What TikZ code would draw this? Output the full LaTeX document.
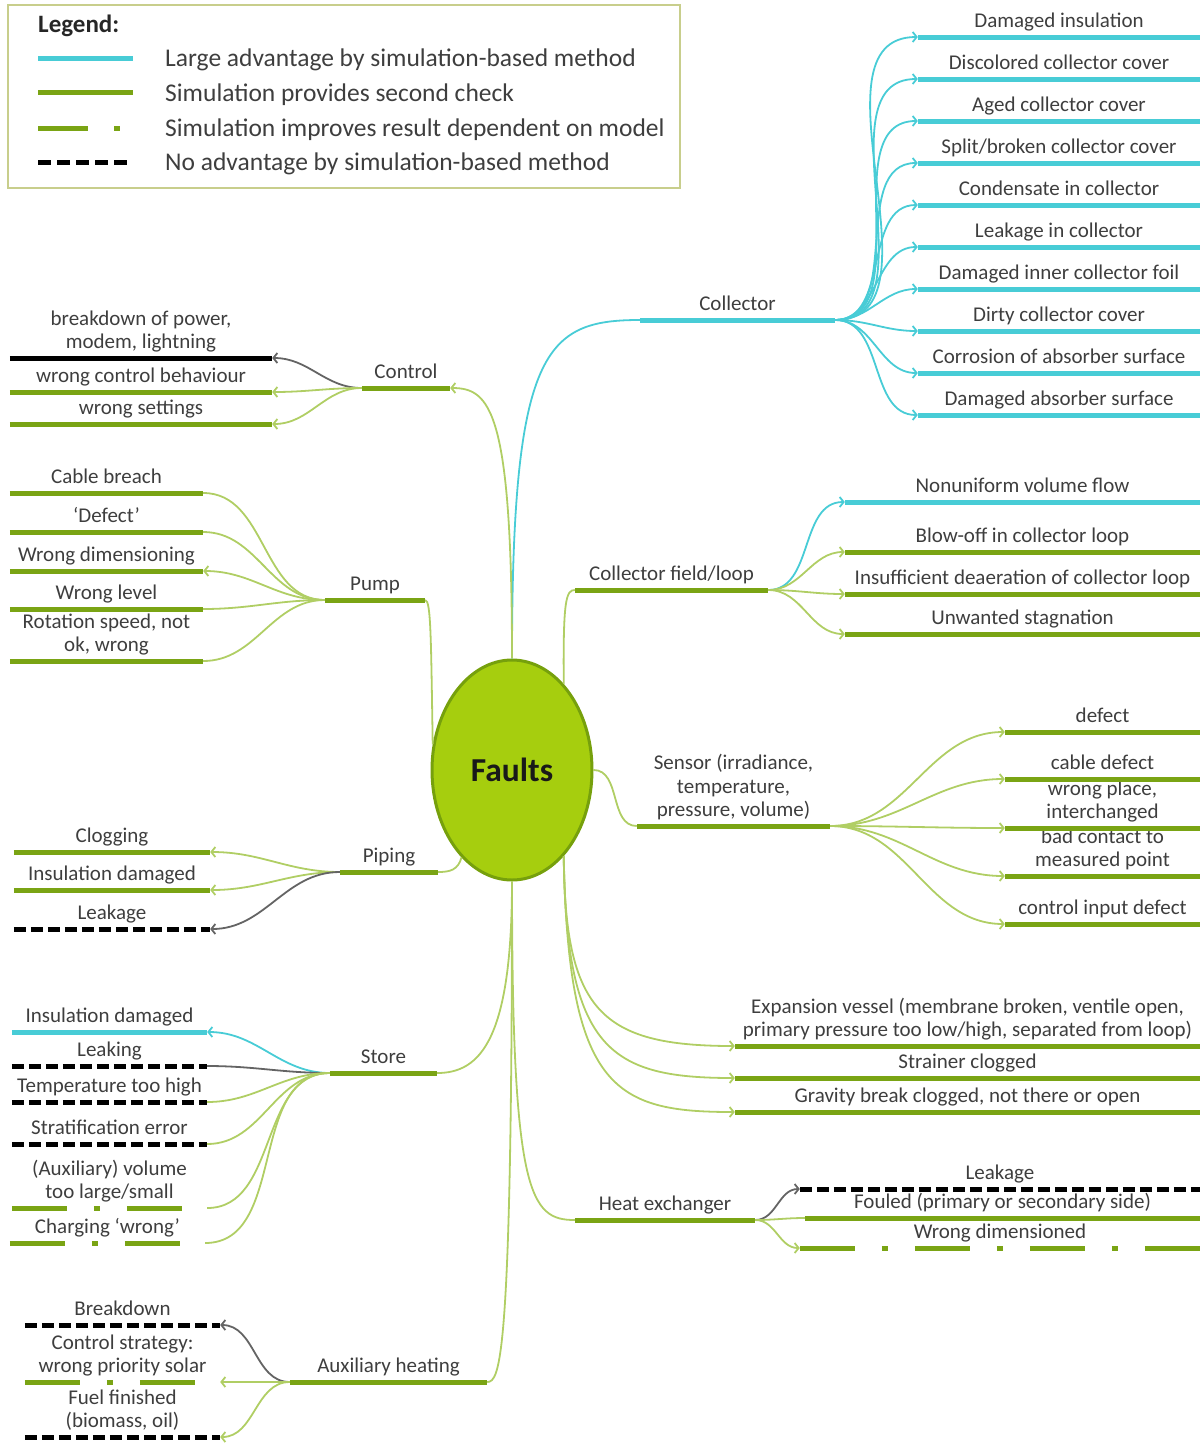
\documentclass[tikz,border=0pt]{standalone}
\usepackage{fontspec}
\setmainfont{Carlito}
\definecolor{simCyan}{RGB}{72,204,214}
\definecolor{checkGreen}{RGB}{122,164,20}
\definecolor{linkGreen}{RGB}{176,206,100}
\definecolor{linkGray}{RGB}{100,100,100}
\definecolor{faultFill}{RGB}{166,206,14}
\definecolor{faultEdge}{RGB}{118,160,12}
\definecolor{legendEdge}{RGB}{200,206,140}
\definecolor{txtGray}{RGB}{62,62,62}
\usepackage{tikz}
\usetikzlibrary{shapes.geometric,arrows.meta,positioning}

\tikzset{
  leaf/.style={anchor=south, minimum width=#1, inner xsep=0pt, inner ysep=4pt,
    text depth=5pt, align=center, text=txtGray, font=\fontsize{21}{23.5}\selectfont},
  legtext/.style={anchor=west, inner sep=0pt, text=txtGray,
    font=\fontsize{25.5}{30}\selectfont},
  cyanbar/.style={line width=5pt, simCyan},
  greenbar/.style={line width=5pt, checkGreen},
  blackbar/.style={line width=5pt, black},
  nobar/.style={line width=5pt, black, dash pattern=on 12pt off 5pt},
  modelbar/.style={line width=5pt, checkGreen, dash pattern=on 55pt off 27pt on 6pt off 27pt},
  cyanlink/.style={line width=1.8pt, simCyan},
  greenlink/.style={line width=1.8pt, linkGreen},
  graylink/.style={line width=1.8pt, linkGray},
}

\begin{document}
\begin{tikzpicture}[x=1pt,y=-1pt,>={Straight Barb[length=4pt,width=10pt]}]
      \useasboundingbox (0,0) rectangle (1204,1443);
      % Legend
      \draw[line width=2pt, legendEdge] (8,5) rectangle (680,188);
      \node[anchor=west, inner sep=0pt, text=black!85,
            font=\fontsize{25}{28}\selectfont\bfseries] (legtitle) at (38,26) {Legend:};
      \node[legtext] (leg1) at (165,60) {Large advantage by simulation-based method};
      \node[legtext] (leg2) at (165,95) {Simulation provides second check};
      \node[legtext] (leg3) at (165,130) {Simulation improves result dependent on model};
      \node[legtext] (leg4) at (165,164) {No advantage by simulation-based method};
      \draw[cyanbar] (38,58) -- (133,58);
      \draw[greenbar] (38,92) -- (133,92);
      \draw[modelbar, dash pattern=on 50pt off 26pt on 6pt off 26pt] (38,128) -- (124,128);
      \draw[nobar, dash pattern=on 13pt off 6pt] (38,162) -- (127,162);
      % Centre
      \node[ellipse, fill=faultFill, draw=faultEdge, line width=3pt,
            minimum width=160, minimum height=220, text=black!90,
            font=\fontsize{33.5}{36}\selectfont\bfseries]
        (faults) at (512,770) {Faults};
      % Collector
      \node[leaf=195] (col) at (737.5,320) {Collector};
      \node[leaf=282] (col1) at (1059,37) {Damaged insulation};
      \node[leaf=282] (col2) at (1059,79) {Discolored collector cover};
      \node[leaf=282] (col3) at (1059,121) {Aged collector cover};
      \node[leaf=282] (col4) at (1059,163) {Split/broken collector cover};
      \node[leaf=282] (col5) at (1059,205) {Condensate in collector};
      \node[leaf=282] (col6) at (1059,247) {Leakage in collector};
      \node[leaf=282] (col7) at (1059,289) {Damaged inner collector foil};
      \node[leaf=282] (col8) at (1059,331) {Dirty collector cover};
      \node[leaf=282] (col9) at (1059,373) {Corrosion of absorber surface};
      \node[leaf=282] (col10) at (1059,415) {Damaged absorber surface};
      % Collector field/loop
      \node[leaf=193] (cfl) at (671.5,590) {Collector field/loop};
      \node[leaf=355] (cfl1) at (1022.5,502) {Nonuniform volume flow};
      \node[leaf=355] (cfl2) at (1022.5,552) {Blow-off in collector loop};
      \node[leaf=355] (cfl3) at (1022.5,594) {Insufficient deaeration of collector loop};
      \node[leaf=355] (cfl4) at (1022.5,634) {Unwanted stagnation};
      % Sensor
      \node[leaf=193] (sen) at (733.5,826) {Sensor (irradiance,\\temperature,\\pressure, volume)};
      \node[leaf=195] (sen1) at (1102.5,732) {defect};
      \node[leaf=195] (sen2) at (1102.5,779) {cable defect};
      \node[leaf=195] (sen3) at (1102.5,828) {wrong place,\\interchanged};
      \node[leaf=195] (sen4) at (1102.5,876) {bad contact to\\measured point};
      \node[leaf=195] (sen5) at (1102.5,924) {control input defect};
      % Loop parts
      \node[leaf=465] (exp) at (967.5,1046)
        {Expansion vessel (membrane broken, ventile open,\\primary pressure too low/high, separated from loop)};
      \node[leaf=465] (str) at (967.5,1078) {Strainer clogged};
      \node[leaf=465] (grv) at (967.5,1112) {Gravity break clogged, not there or open};
      % Heat exchanger
      \node[leaf=180] (hex) at (665,1220) {Heat exchanger};
      \node[leaf=400] (hex1) at (1000,1189) {Leakage};
      \node[leaf=395] (hex2) at (1002.5,1218) {Fouled (primary or secondary side)};
      \node[leaf=400] (hex3) at (1000,1248) {Wrong dimensioned};
      % Control
      \node[leaf=88] (ctl) at (406,388) {Control};
      \node[leaf=262] (ctl1) at (141,358) {breakdown of power,\\modem, lightning};
      \node[leaf=262] (ctl2) at (141,392) {wrong control behaviour};
      \node[leaf=262] (ctl3) at (141,424) {wrong settings};
      % Pump
      \node[leaf=100] (pmp) at (375,600) {Pump};
      \node[leaf=193] (pmp1) at (106.5,493) {Cable breach};
      \node[leaf=193] (pmp2) at (106.5,532) {‘Defect’};
      \node[leaf=193] (pmp3) at (106.5,571) {Wrong dimensioning};
      \node[leaf=193] (pmp4) at (106.5,609) {Wrong level};
      \node[leaf=193] (pmp5) at (106.5,661) {Rotation speed, not\\ok, wrong};
      % Piping
      \node[leaf=98] (pip) at (389,872) {Piping};
      \node[leaf=196] (pip1) at (112,852) {Clogging};
      \node[leaf=196] (pip2) at (112,890) {Insulation damaged};
      \node[leaf=196] (pip3) at (112,929) {Leakage};
      % Store
      \node[leaf=107] (sto) at (383.5,1073) {Store};
      \node[leaf=195] (sto1) at (109.5,1032) {Insulation damaged};
      \node[leaf=195] (sto2) at (109.5,1066) {Leaking};
      \node[leaf=195] (sto3) at (109.5,1102) {Temperature too high};
      \node[leaf=195] (sto4) at (109.5,1144) {Stratification error};
      \node[leaf=195] (sto5) at (109.5,1208) {(Auxiliary) volume\\too large/small};
      \node[leaf=195] (sto6) at (107.5,1243) {Charging ‘wrong’};
      % Auxiliary heating
      \node[leaf=197] (aux) at (388.5,1382) {Auxiliary heating};
      \node[leaf=195] (aux1) at (122.5,1325) {Breakdown};
      \node[leaf=195] (aux2) at (122.5,1382) {Control strategy:\\wrong priority solar};
      \node[leaf=195] (aux3) at (122.5,1437) {Fuel finished\\(biomass, oil)};
      % Trunks
      \draw[cyanlink] (faults.north) .. controls (512,350) and (545,320) .. (col.south west);
      \draw[greenlink,->] (faults.north) .. controls (512,410) and (490,388) .. (ctl.south east);
      \draw[greenlink] (faults.59) .. controls (563,600) and (566,590) .. (cfl.south west);
      \draw[greenlink] (faults.east) to[out=0,in=180] (sen.south west);
      \draw[greenlink,->] (faults.-59) .. controls (565,1010) and (600,1046) .. (exp.south west);
      \draw[greenlink,->] (faults.-59) .. controls (566,1050) and (610,1078) .. (str.south west);
      \draw[greenlink,->] (faults.-59) .. controls (568,1090) and (615,1112) .. (grv.south west);
      \draw[greenlink] (faults.south) .. controls (512,1195) and (530,1220) .. (hex.south west);
      \draw[greenlink] (faults.south) .. controls (512,1040) and (480,1073) .. (sto.south east);
      \draw[greenlink] (faults.south) .. controls (512,1360) and (500,1382) .. (aux.south east);
      \draw[greenlink] (faults.162) .. controls (431,640) and (431,600) .. (pmp.south east);
      \draw[greenlink] (faults.240) .. controls (458,870) and (450,872) .. (pip.south east);
      % Branch links
      \foreach \i in {1,...,10}
        \draw[cyanlink,->] (col.south east) to[out=0,in=180] (col\i.south west);
      \draw[cyanlink,->] (cfl.south east) to[out=0,in=180] (cfl1.south west);
      \foreach \i in {2,3,4}
        \draw[greenlink,->] (cfl.south east) to[out=0,in=180] (cfl\i.south west);
      \foreach \i in {1,...,5}
        \draw[greenlink,->] (sen.south east) to[out=0,in=180] (sen\i.south west);
      \draw[graylink,->] (hex.south east) to[out=0,in=180] (hex1.south west);
      \draw[greenlink] (hex.south east) to[out=0,in=180] (hex2.south west);
      \draw[greenlink,->] (hex.south east) to[out=0,in=180] (hex3.south west);
      \draw[graylink,->] (ctl.south west) to[out=180,in=0] (ctl1.south east);
      \draw[greenlink,->] (ctl.south west) to[out=180,in=0] (ctl2.south east);
      \draw[greenlink,->] (ctl.south west) to[out=180,in=0] (ctl3.south east);
      \foreach \i in {1,2,4,5}
        \draw[greenlink] (pmp.south west) to[out=180,in=0] (pmp\i.south east);
      \draw[greenlink,->] (pmp.south west) to[out=180,in=0] (pmp3.south east);
      \draw[greenlink,->] (pip.south west) to[out=180,in=0] (pip1.south east);
      \draw[greenlink,->] (pip.south west) to[out=180,in=0] (pip2.south east);
      \draw[graylink,->] (pip.south west) to[out=180,in=0] (pip3.south east);
      \draw[cyanlink,->] (sto.south west) to[out=180,in=0] (sto1.south east);
      \draw[graylink] (sto.south west) to[out=180,in=0] (sto2.south east);
      \foreach \i in {3,...,6}
        \draw[greenlink] (sto.south west) to[out=180,in=0] (sto\i.south east);
      \draw[graylink,->] (aux.south west) to[out=180,in=0] (aux1.south east);
      \draw[greenlink,->] (aux.south west) to[out=180,in=0] (aux2.south east);
      \draw[greenlink,->] (aux.south west) to[out=180,in=0] (aux3.south east);
      % Bars
      \foreach \n in {col,col1,col2,col3,col4,col5,col6,col7,col8,col9,col10,cfl1,sto1}
        \draw[cyanbar] (\n.south west) -- (\n.south east);
      \foreach \n in {cfl,cfl2,cfl3,cfl4,sen,sen1,sen2,sen3,sen4,sen5,exp,str,grv,
                      hex,hex2,ctl,ctl2,ctl3,pmp,pmp1,pmp2,pmp3,pmp4,pmp5,
                      pip,pip1,pip2,sto,aux}
        \draw[greenbar] (\n.south west) -- (\n.south east);
      \foreach \n in {hex1,pip3,sto2,sto3,sto4,aux1,aux3}
        \draw[nobar] (\n.south west) -- (\n.south east);
      \foreach \n in {hex3,sto5,sto6,aux2}
        \draw[modelbar] (\n.south west) -- (\n.south east);
      \draw[blackbar] (ctl1.south west) -- (ctl1.south east);
    \end{tikzpicture}
\end{document}
